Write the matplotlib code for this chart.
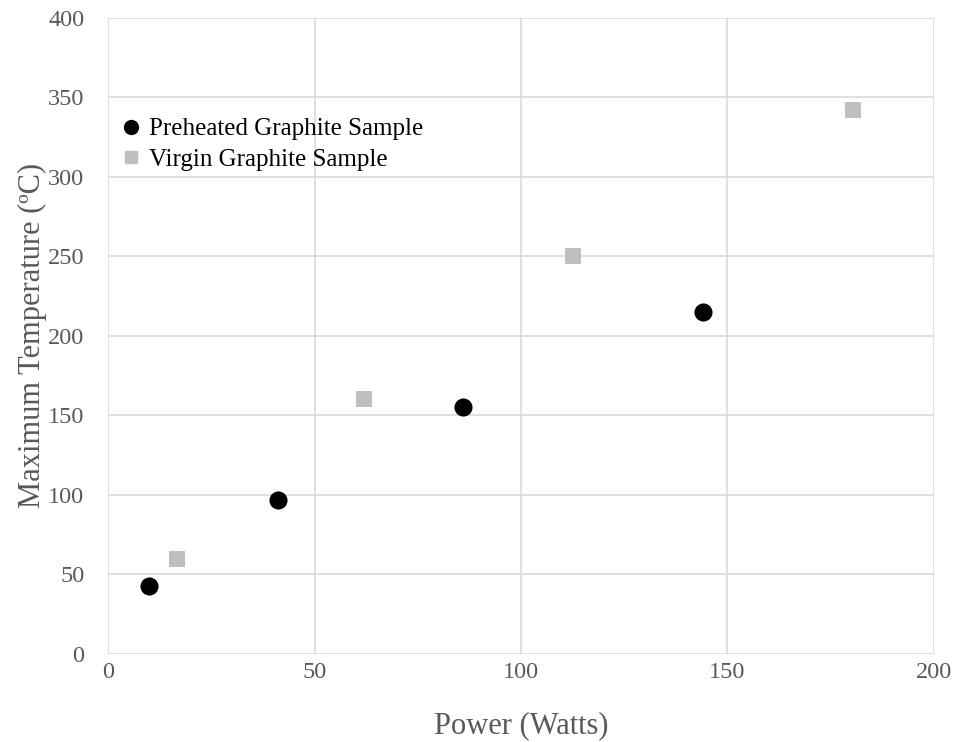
import matplotlib.pyplot as plt
from matplotlib.lines import Line2D

# --- data ---
preheated_power = [10.0, 41.2, 85.9, 144.0]
preheated_temp = [43, 97, 155.5, 215]
virgin_power = [16.6, 62.0, 112.5, 180.3]
virgin_temp = [60, 160, 250, 342]

x_ticks = [0, 50, 100, 150, 200]
y_ticks = [0, 50, 100, 150, 200, 250, 300, 350, 400]

plt.rcParams['font.family'] = ['Liberation Serif', 'DejaVu Serif']

fig = plt.figure(figsize=(9.55, 7.42), dpi=100)
ax = fig.add_axes([0.1131, 0.1186, 0.8649, 0.8578])

ax.scatter(preheated_power, preheated_temp, s=170, marker='o', color='black',
           zorder=3, linewidths=0)
ax.scatter(virgin_power, virgin_temp, s=135, marker='s', color='#bfbfbf',
           zorder=3, linewidths=0)

ax.set_xlim(0, 200)
ax.set_ylim(0, 400)
ax.set_xticks(x_ticks)
ax.set_yticks(y_ticks)
ax.grid(True, color='#d9d9d9', linewidth=1.2)
ax.set_axisbelow(True)
for s in ax.spines.values():
    s.set_visible(False)
ax.tick_params(length=0, labelsize=17.5, colors='#595959')
ax.tick_params(axis='x', pad=6)
ax.tick_params(axis='y', pad=17)

ax.set_xlabel('Power (Watts)', fontsize=22, color='#595959', labelpad=20)
ax.set_ylabel('Maximum Temperature (ºC)', fontsize=22, color='#595959', labelpad=1)

handles = [
    Line2D([], [], marker='o', color='black', linestyle='none', markersize=10),
    Line2D([], [], marker='s', color='#bfbfbf', linestyle='none', markersize=9),
]
ax.legend(handles, ['Preheated Graphite Sample', 'Virgin Graphite Sample'],
          loc='upper left', bbox_to_anchor=(0.0, 0.85), frameon=False,
          fontsize=18, handletextpad=0.0, labelspacing=0.32, borderaxespad=0.0,
          borderpad=0.2, handlelength=1.44)

fig.savefig('out.png', dpi=100, facecolor='white')
